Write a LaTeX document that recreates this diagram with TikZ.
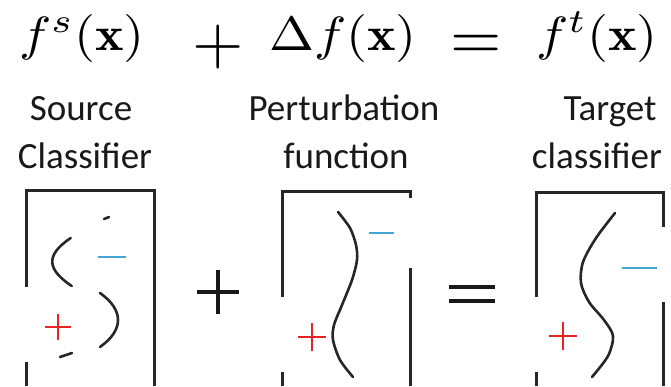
\documentclass[tikz,border=0pt]{standalone}
\usepackage{fontspec}
\newfontfamily\labelfont{Carlito}
\definecolor{minusblue}{RGB}{70,165,215}
\definecolor{plusred}{RGB}{232,35,35}
\begin{document}
\begin{tikzpicture}[x=1pt,y=-1pt,
  frame/.style={line width=3pt,black!85},
  bound/.style={line width=2.6pt,black!85,line cap=round},
  negmark/.style={line width=2.4pt,minusblue},
  posmark/.style={line width=2.4pt,plusred},
  mathlbl/.style={inner sep=0pt,xscale=5.4,yscale=4.8},
  opsym/.style={inner sep=0pt,scale=6.6},
  txt/.style={inner sep=0pt,anchor=base,font=\labelfont\fontsize{37}{44}\selectfont,text=black!90},
  op/.style={line width=4.2pt,black!90}]
\useasboundingbox (0,0) rectangle (671,386);
% top formula
\node[mathlbl,anchor=base] (fs) at (82,50) {$f^{s}(\mathbf{x})$};
\node[opsym] (p1) at (218,47) {$+$};
\node[mathlbl,anchor=base] (df) at (343,50) {$\Delta f(\mathbf{x})$};
\node[opsym] (e1) at (476,47) {$=$};
\node[mathlbl,anchor=base] (ft) at (597,50) {$f^{t}(\mathbf{x})$};
% labels
\node[txt] (s1) at (81,120) {Source};
\node[txt] (s2) at (85,168) {Classifier};
\node[txt] (q1) at (344,120) {Perturbation};
\node[txt] (q2) at (346,168) {function};
\node[txt] (t1) at (610,120) {Target};
\node[txt] (t2) at (597,168) {classifier};
% box 1
\draw[frame] (26,287) -- (26,190) -- (154,190) -- (154,386);
\draw[frame] (26,362) -- (26,386);
\draw[bound] (104,219) -- (109,217);
\draw[bound] (70.7,238) .. controls (44,256) and (48,270) .. (71.7,286);
\draw[bound] (100,293) .. controls (124,310) and (124,330) .. (100,347);
\draw[bound] (60,357) -- (72,353);
\draw[negmark] (98,257) -- (126,257);
\draw[posmark] (45,327) -- (71,327) (58,314) -- (58,340);
% big plus
\draw[op] (197,292) -- (239,292) (218,270) -- (218,314);
% box 2
\draw[frame] (282,297) -- (282,191) -- (410,191) -- (410,198);
\draw[frame] (282,372) -- (282,386);
\draw[frame] (410,268) -- (410,386);
\draw[bound] plot[smooth] coordinates {(338,212) (350,228) (356,245) (357,260) (352,280) (342,305) (334,325) (333,340) (340,360) (353,377)};
\draw[negmark] (369,233) -- (394,233);
\draw[posmark] (298,337) -- (326,337) (312,323) -- (312,351);
% equals
\draw[op] (449,287) -- (495,287) (449,301) -- (495,301);
% box 3
\draw[frame] (536,297) -- (536,192) -- (663,192) -- (663,227);
\draw[frame] (536,372) -- (536,386);
\draw[frame] (663,302) -- (663,386);
\draw[bound] plot[smooth] coordinates {(615,213) (596,238) (583,262) (581,283) (589,302) (604,320) (613,336) (608,356) (592,377)};
\draw[negmark] (622,268) -- (657,268);
\draw[posmark] (549,336) -- (577,336) (563,322) -- (563,350);
\end{tikzpicture}
\end{document}
